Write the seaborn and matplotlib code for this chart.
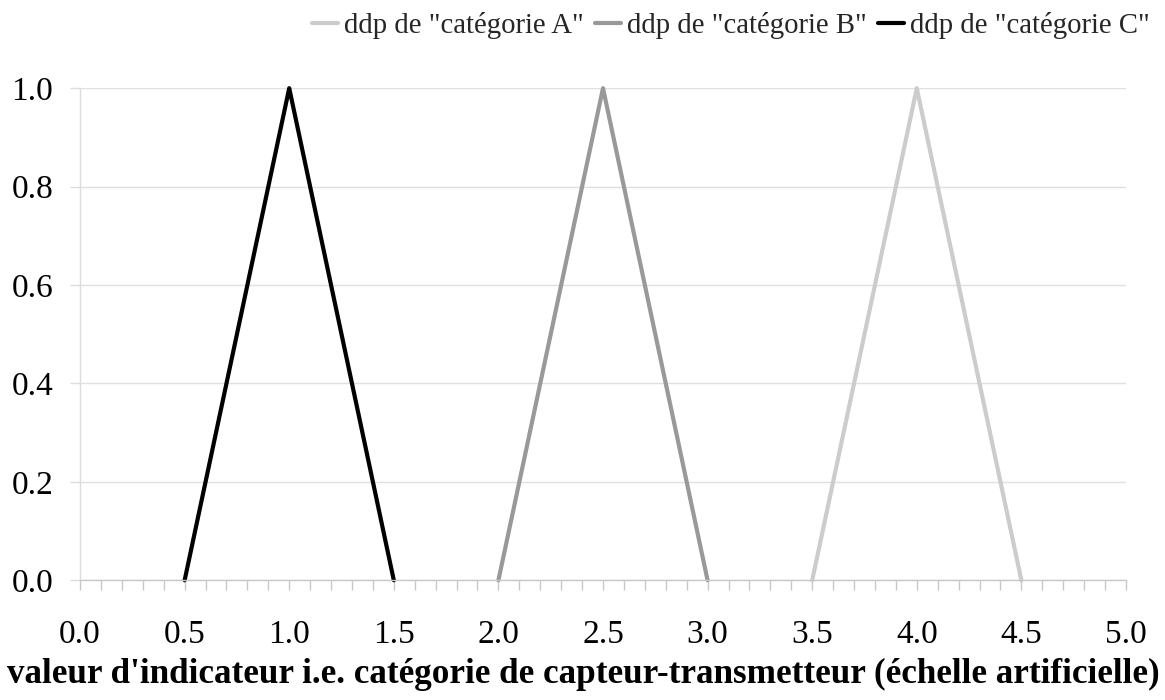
import pandas as pd
import matplotlib.pyplot as plt
import seaborn as sns
from matplotlib.ticker import MultipleLocator

# triangular pdfs
x_a = [3.5, 4.0, 4.5]
y_a = [0.0, 1.0, 0.0]
x_b = [2.0, 2.5, 3.0]
y_b = [0.0, 1.0, 0.0]
x_c = [0.5, 1.0, 1.5]
y_c = [0.0, 1.0, 0.0]
labels = ['ddp de "catégorie A"', 'ddp de "catégorie B"', 'ddp de "catégorie C"']
colors = ["#cccccc", "#999999", "#000000"]

sns.set_theme(style="white")
plt.rcParams['font.family'] = ['Liberation Serif', 'DejaVu Serif']

df = pd.concat([
    pd.DataFrame({"x": x_a, "y": y_a, "serie": labels[0]}),
    pd.DataFrame({"x": x_b, "y": y_b, "serie": labels[1]}),
    pd.DataFrame({"x": x_c, "y": y_c, "serie": labels[2]}),
])

fig = plt.figure(figsize=(11.65, 7), dpi=100)
ax = fig.add_axes([0.0687, 0.171, 0.8978, 0.703])

sns.lineplot(data=df, x="x", y="y", hue="serie", palette=dict(zip(labels, colors)),
             linewidth=3, sort=False, ax=ax, legend=False, clip_on=False)

ax.set_xlim(0, 5)
ax.set_ylim(0, 1)
ax.xaxis.set_major_locator(MultipleLocator(0.5))
ax.xaxis.set_minor_locator(MultipleLocator(0.1))
ax.yaxis.set_major_locator(MultipleLocator(0.2))
ax.xaxis.set_major_formatter(plt.FormatStrFormatter("%.1f"))
ax.yaxis.set_major_formatter(plt.FormatStrFormatter("%.1f"))
ax.grid(axis="y", color="#e0e0e0", linewidth=1)
ax.set_axisbelow(True)
for s in ["top", "right"]:
    ax.spines[s].set_visible(False)
ax.spines["bottom"].set_color("#c8c8c8")
ax.spines["bottom"].set_linewidth(1)
ax.spines["left"].set_color("#dcdcdc")
ax.spines["left"].set_linewidth(1)
ax.tick_params(axis="x", which="both", direction="out", bottom=True, color="#c8c8c8",
               length=7.2, width=1, labelsize=24, pad=21)
ax.tick_params(axis="y", which="both", direction="out", left=True, color="#dcdcdc",
               length=7.2, width=1, labelsize=24, pad=12)
for t in ax.get_xticklabels() + ax.get_yticklabels():
    t.set_color("black")

ax.set_xlabel("valeur d'indicateur i.e. catégorie de capteur-transmetteur (échelle artificielle)",
              fontsize=25.3, fontweight="bold", color="black")
ax.xaxis.set_label_coords(0.481, -0.158)
ax.set_ylabel("")

handles = [plt.Line2D([], [], color=c, linewidth=3) for c in colors]
fig.legend(handles, labels, loc="upper right", bbox_to_anchor=(1.009, 1.02), ncol=3,
           frameon=False, fontsize=20.7, handlelength=0.9, handletextpad=0.2,
           columnspacing=0.4)

fig.savefig("out.png", dpi=100)
